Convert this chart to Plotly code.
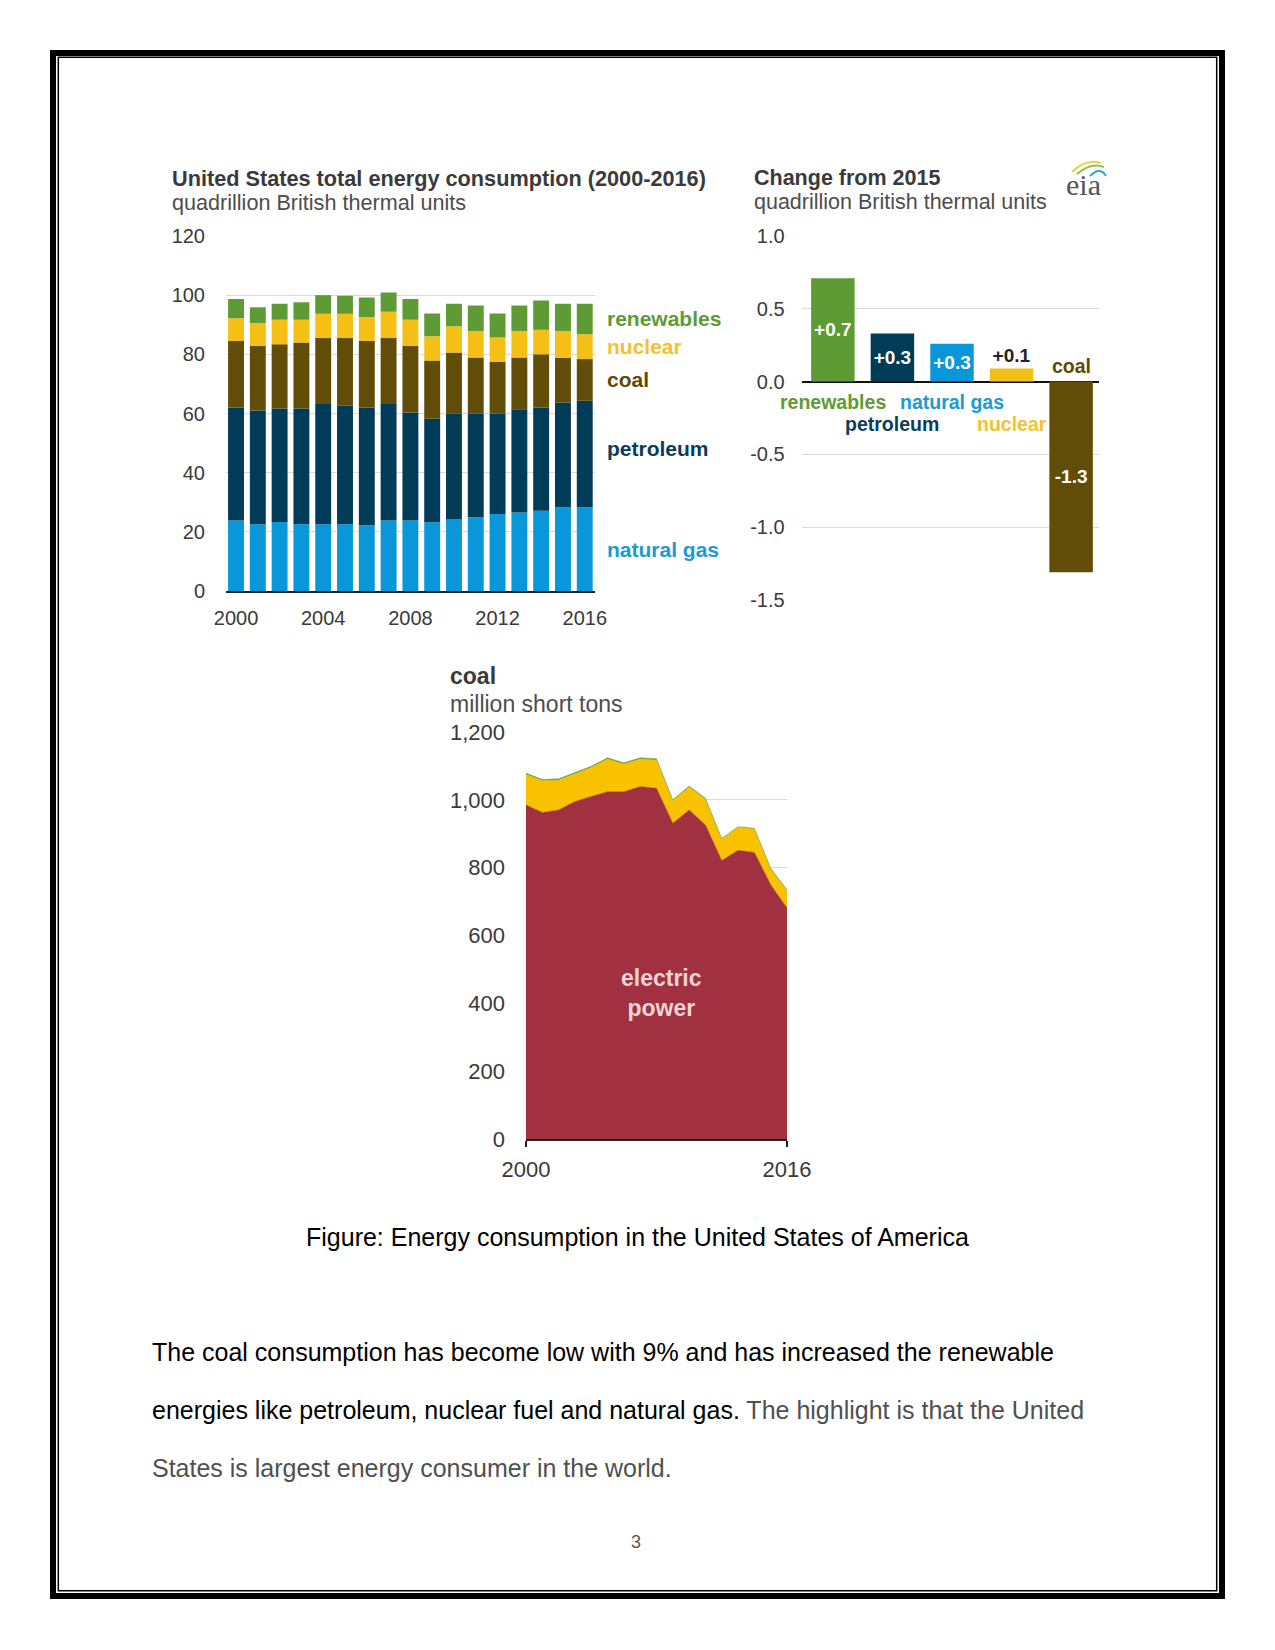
import plotly.graph_objects as go

# ---------------- data ----------------
years = list(range(2000, 2017))
natural_gas = [23.8, 22.6, 23.3, 22.6, 22.6, 22.6, 22.2, 23.8, 23.8, 23.2, 24.3, 24.9, 26.0, 26.5, 27.1, 28.3, 28.3]
petroleum = [38.2, 38.4, 38.4, 39.1, 40.6, 40.0, 39.8, 39.4, 36.5, 35.0, 35.6, 35.0, 33.9, 34.9, 34.9, 35.4, 36.0]
coal = [22.5, 21.8, 21.7, 22.3, 22.3, 22.9, 22.5, 22.3, 22.5, 19.7, 20.7, 19.0, 17.5, 17.5, 18.0, 15.2, 14.1]
nuclear = [7.7, 7.8, 8.3, 7.7, 8.2, 8.2, 8.1, 8.9, 8.9, 8.2, 8.9, 9.0, 8.3, 9.0, 8.3, 9.0, 8.4]
renewables = [6.5, 5.3, 5.4, 5.9, 6.3, 6.1, 6.6, 6.5, 7.0, 7.7, 7.6, 8.6, 8.1, 8.6, 9.9, 9.2, 10.3]
left_ticks = [2000, 2004, 2008, 2012, 2016]

change_cats = ["renewables", "petroleum", "natural gas", "nuclear", "coal"]
change_vals = [0.71, 0.33, 0.26, 0.09, -1.31]
change_labels = ["+0.7", "+0.3", "+0.3", "+0.1", "-1.3"]
change_ticks = [-1.5, -1.0, -0.5, 0.0, 0.5, 1.0]

coal_years = list(range(2000, 2017))
coal_electric = [985, 963, 970, 995, 1010, 1024, 1024, 1039, 1034, 931, 970, 926, 821, 851, 845, 750, 681]
coal_industrial = [90, 93, 88, 82, 85, 96, 81, 81, 83, 66, 68, 76, 63, 68, 69, 46, 52]
coal_other = [4, 4, 4, 4, 4, 4, 4, 4, 4, 3, 3, 3, 2, 2, 2, 2, 2]

# ---------------- styles ----------------
W, H = 1275, 1650
FONT = "Liberation Sans, Arial, sans-serif"
C_NG, C_PET, C_COAL, C_NUC, C_REN = "#0a97d9", "#003b57", "#624d08", "#f5c016", "#5e9b35"
L_NG, L_PET, L_COAL, L_NUC, L_REN = "#1a9ad6", "#0b3c5d", "#5e4a05", "#f3c22e", "#5e9b35"


def px(x):
    return x / W


def py(y):
    return 1 - y / H


fig = go.Figure()

# left stacked bars
series = [("natural gas", natural_gas, C_NG, L_NG),
          ("petroleum", petroleum, C_PET, L_PET),
          ("coal", coal, C_COAL, L_COAL),
          ("nuclear", nuclear, C_NUC, L_NUC),
          ("renewables", renewables, C_REN, L_REN)]
for name, vals, col, _ in series:
    fig.add_trace(go.Bar(x=years, y=vals, name=name, marker=dict(color=col, line=dict(width=0)),
                         xaxis="x", yaxis="y", hoverinfo="skip"))

# right change bars
bar_cols = [C_REN, C_PET, C_NG, C_NUC, C_COAL]
txt_pos = ["inside", "inside", "inside", "outside", "inside"]
txt_col = ["white", "white", "white", "#222222", "white"]
fig.add_trace(go.Bar(x=list(range(len(change_vals))), y=change_vals, xaxis="x2", yaxis="y2",
                     marker=dict(color=bar_cols, line=dict(width=0)),
                     text=change_labels, textposition=txt_pos, insidetextanchor="middle",
                     textangle=0, constraintext="none", cliponaxis=False,
                     textfont=dict(family=FONT, size=19, color=txt_col, weight="bold"),
                     outsidetextfont=dict(family=FONT, size=19, color=txt_col, weight="bold"),
                     hoverinfo="skip"))

# bottom stacked area
for vals, col in [(coal_electric, "#a13040"), (coal_industrial, "#f8c200"), (coal_other, "#6aa43a")]:
    fig.add_trace(go.Scatter(x=coal_years, y=vals, xaxis="x3", yaxis="y3", mode="lines",
                             stackgroup="coal", line=dict(width=0.5, color=col), fillcolor=col,
                             hoverinfo="skip"))

tickfont = dict(family=FONT, size=20, color="#3a3a3a")

fig.update_layout(
    template="none",
    width=W, height=H, margin=dict(l=0, r=0, t=0, b=0, pad=0), autosize=False,
    paper_bgcolor="white", plot_bgcolor="white",
    showlegend=False, barmode="relative", bargap=0.27,
    font=dict(family=FONT, color="#333"),
    xaxis=dict(domain=[px(226), px(595)], range=[1999.54, 2016.47], tickvals=left_ticks,
               showgrid=False, zeroline=False, showline=True, linecolor="#222", linewidth=2,
               ticks="", tickfont=tickfont, ticklabelstandoff=8, anchor="y", automargin=False),
    yaxis=dict(domain=[py(591), py(236)], range=[0, 120], tickvals=[0, 20, 40, 60, 80, 100, 120],
               showgrid=True, gridcolor="#dadada", gridwidth=1, zeroline=False, showline=False,
               ticks="", tickfont=tickfont, ticklabelstandoff=20, anchor="x", automargin=False),
    xaxis2=dict(domain=[px(801.6), px(1099.4)], range=[-0.525, 4.475], showticklabels=False,
                showgrid=False, zeroline=False, showline=False, ticks="", anchor="y2",
                automargin=False),
    yaxis2=dict(domain=[py(600), py(236)], range=[-1.5, 1.0], tickvals=change_ticks,
                ticktext=["{:.1f}".format(v) for v in change_ticks],
                showgrid=True, gridcolor="#dadada", zeroline=True, zerolinecolor="#111",
                zerolinewidth=2, ticks="", tickfont=dict(family=FONT, size=20, color="#3a3a3a"),
                ticklabelstandoff=16, anchor="x2", automargin=False),
    xaxis3=dict(domain=[px(526), px(787)], range=[2000, 2016], tickvals=[2000, 2016],
                showgrid=False, zeroline=False, showline=True, linecolor="#222", linewidth=2,
                ticks="outside", ticklen=6, tickwidth=2, tickcolor="#222",
                tickfont=dict(family=FONT, size=22, color="#3a3a3a"), ticklabelstandoff=4,
                anchor="y3", automargin=False),
    yaxis3=dict(domain=[py(1139), py(732)], range=[0, 1200], dtick=200, tickformat=",",
                showgrid=True, gridcolor="#dadada", zeroline=False, ticks="",
                tickfont=dict(family=FONT, size=22, color="#3a3a3a"), ticklabelstandoff=20,
                anchor="x3", automargin=False),
)

ann = []


def text(x, y, s, size, color, bold=False, xanchor="left", family=FONT):
    ann.append(dict(xref="paper", yref="paper", x=px(x), y=py(y), text=s, showarrow=False,
                    xanchor=xanchor, yanchor="middle",
                    font=dict(family=family, size=size, color=color,
                              weight="bold" if bold else "normal")))


# titles
text(170, 178, "United States total energy consumption (2000-2016)", 21.7, "#3a3a3a", True)
text(170, 202, "quadrillion British thermal units", 21.6, "#4d4d4d")
text(752, 178, "Change from 2015", 21.5, "#3a3a3a", True)
text(752, 202, "quadrillion British thermal units", 21.5, "#4d4d4d")
text(448, 676, "coal", 23, "#3a3a3a", True)
text(448, 704, "million short tons", 23, "#4d4d4d")

# eia logo
text(1083, 185, "eia", 30, "#555555", xanchor="center", family="Liberation Serif, Times New Roman, serif")

# left chart series labels at the 2016 bar
last = len(years) - 1
base = 0
for name, vals, _, lcol in series:
    mid = base + vals[last] / 2
    if name == "petroleum":
        mid += 2
    ann.append(dict(xref="x", yref="y", x=years[last], y=mid, text=name, showarrow=False,
                    xanchor="left", yanchor="middle", xshift=20,
                    font=dict(family=FONT, size=21, color=lcol, weight="bold")))
    base += vals[last]

# right chart category labels
cat_cols = [L_REN, L_PET, L_NG, L_NUC, L_COAL]
for i, (cat, v) in enumerate(zip(change_cats, change_vals)):
    if v >= 0:
        shift = -20 if i % 2 == 0 else -42
    else:
        shift = 16
    ann.append(dict(xref="x2", yref="y2", x=i, y=0, text=cat, showarrow=False,
                    xanchor="center", yanchor="middle", yshift=shift,
                    font=dict(family=FONT, size=19.5, color=cat_cols[i], weight="bold")))

# bottom chart label
ann.append(dict(xref="x3", yref="y3", x=2008.3, y=430, text="electric<br>power", showarrow=False,
                xanchor="center", yanchor="middle",
                font=dict(family=FONT, size=23, color="#f3d4d6", weight="bold")))

# caption and body
text(637, 1237, "Figure: Energy consumption in the United States of America", 25, "#000000", xanchor="center")
text(150, 1352, "The coal consumption has become low with 9% and has increased the renewable", 25, "#000000")
text(150, 1410, "energies like petroleum, nuclear fuel and natural gas. "
                "<span style='color:#505050'>The highlight is that the United</span>", 25, "#000000")
text(150, 1468, "States is largest energy consumer in the world.", 25, "#505050")
text(636, 1542, "3", 18, "#555555", xanchor="center")

fig.update_layout(annotations=ann)

# page border and logo arcs
shapes = [
    dict(type="rect", xref="paper", yref="paper", x0=px(53), x1=px(1222), y0=py(53), y1=py(1596),
         line=dict(color="black", width=6), fillcolor="rgba(0,0,0,0)", layer="above"),
    dict(type="rect", xref="paper", yref="paper", x0=px(58.3), x1=px(1216.7), y0=py(57.3), y1=py(1590.7),
         line=dict(color="black", width=1.5), fillcolor="rgba(0,0,0,0)", layer="above"),
]


def arc(p0, c, p1, color):
    path = "M {} {} Q {} {} {} {}".format(px(p0[0]), py(p0[1]), px(c[0]), py(c[1]), px(p1[0]), py(p1[1]))
    return dict(type="path", xref="paper", yref="paper", path=path, line=dict(color=color, width=2))


shapes += [arc((1072, 172), (1086, 158), (1101, 163), "#e3d54a"),
           arc((1077, 174), (1091, 162), (1104, 167), "#8cc63f"),
           arc((1090, 176), (1100, 166), (1106, 176), "#2aa7df")]
fig.update_layout(shapes=shapes)

fig.write_html("out.html", config={"displayModeBar": False},
               post_script="document.body.style.margin='0';document.body.style.padding='0';")
